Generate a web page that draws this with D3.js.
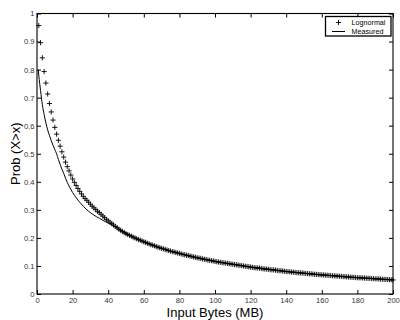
<!DOCTYPE html>
<html><head><meta charset="utf-8">
<script src="https://cdn.jsdelivr.net/npm/d3@7"></script>
<style>html,body{margin:0;padding:0;background:#fff;}svg{display:block;}</style>
</head><body>
<script>
// ---- data ----
const xTicks = [0,20,40,60,80,100,120,140,160,180,200];
const yTicks = [0,0.1,0.2,0.3,0.4,0.5,0.6,0.7,0.8,0.9,1];
const yTickLabels = ["0","0.1","0.2","0.3","0.4","0.5","0.6","0.7","0.8","0.9","1"];
const seriesNames = ["Lognormal","Measured"];

// Lognormal marks: x = 1..200 MB
const lognormalX = d3.range(1, 201);
const lognormalY = [
0.957,0.896,0.842,0.793,0.752,0.713,0.679,0.649,0.620,0.594,
0.570,0.548,0.527,0.507,0.488,0.470,0.454,0.439,0.424,0.410,
0.398,0.387,0.376,0.366,0.357,0.348,0.340,0.334,0.327,0.320,
0.313,0.307,0.301,0.295,0.290,0.284,0.278,0.272,0.266,0.261,
0.256,0.251,0.246,0.241,0.236,0.231,0.227,0.223,0.219,0.215,
0.212,0.209,0.206,0.203,0.200,0.197,0.194,0.192,0.189,0.186,
0.184,0.181,0.179,0.176,0.174,0.172,0.169,0.167,0.165,0.163,
0.161,0.159,0.157,0.155,0.153,0.151,0.150,0.148,0.146,0.145,
0.143,0.141,0.140,0.138,0.137,0.135,0.134,0.132,0.131,0.129,
0.128,0.127,0.125,0.124,0.123,0.121,0.120,0.119,0.118,0.116,
0.115,0.114,0.113,0.112,0.111,0.110,0.109,0.108,0.107,0.106,
0.105,0.104,0.103,0.102,0.101,0.100,0.099,0.098,0.097,0.096,
0.095,0.094,0.093,0.093,0.092,0.091,0.090,0.089,0.089,0.088,
0.087,0.086,0.086,0.085,0.084,0.083,0.083,0.082,0.081,0.080,
0.080,0.079,0.078,0.078,0.077,0.076,0.076,0.075,0.075,0.074,
0.073,0.073,0.072,0.072,0.071,0.070,0.070,0.069,0.069,0.068,
0.068,0.067,0.067,0.066,0.066,0.065,0.065,0.064,0.064,0.063,
0.063,0.062,0.062,0.061,0.061,0.060,0.060,0.059,0.059,0.058,
0.058,0.058,0.057,0.057,0.056,0.056,0.056,0.055,0.055,0.054,
0.054,0.054,0.053,0.053,0.052,0.052,0.052,0.051,0.051,0.050
];

// Measured curve
const measuredX = [0.7,1,2,3,4,5,6,7,8,9,10,11,12,13,14,15,16,17,18,19,20,22,24,26,28,30,32,35,38,41,45,50,60,70,80,90,100,110,120,130,140,150,160,170,180,190,200];
const measuredY = [0.80,0.78,0.725,0.675,0.64,0.61,0.585,0.565,0.547,0.53,0.515,0.5,0.48,0.462,0.445,0.43,0.413,0.398,0.385,0.373,0.362,0.343,0.327,0.313,0.30,0.29,0.281,0.27,0.259,0.25,0.236,0.216,0.186,0.162,0.144,0.129,0.116,0.106,0.096,0.088,0.080,0.074,0.068,0.063,0.058,0.054,0.050];

// ---- drawing ----
const W = 400, H = 320;
const L = 37, R = 393, T = 13.5, B = 294;
const font = "'Liberation Sans', Arial, Helvetica, sans-serif";

const svg = d3.select("body").append("svg").attr("width", W).attr("height", H);

const x = d3.scaleLinear().domain([0, 200]).range([L, R]);
const y = d3.scaleLinear().domain([0, 1]).range([B, T]);

// axes (ticks inward)
const tickLen = 4;
const axB = svg.append("g").attr("transform", `translate(0,${B})`)
  .call(d3.axisBottom(x).tickValues(xTicks).tickSizeInner(-tickLen).tickSizeOuter(0).tickPadding(3.5));
const axT = svg.append("g").attr("transform", `translate(0,${T})`)
  .call(d3.axisTop(x).tickValues(xTicks).tickSizeInner(-tickLen).tickSizeOuter(0).tickFormat(""));
const axL = svg.append("g").attr("transform", `translate(${L},0)`)
  .call(d3.axisLeft(y).tickValues(yTicks).tickSizeInner(-tickLen).tickSizeOuter(0).tickPadding(2.5)
    .tickFormat((d, i) => yTickLabels[i]));
const axR = svg.append("g").attr("transform", `translate(${R},0)`)
  .call(d3.axisRight(y).tickValues(yTicks).tickSizeInner(-tickLen).tickSizeOuter(0).tickFormat(""));

[axB, axT, axL, axR].forEach(g => {
  g.select(".domain").remove();
  g.selectAll(".tick line").attr("stroke", "#000").attr("stroke-width", 1);
  g.selectAll(".tick text").attr("font-family", font).attr("font-size", 7.6).attr("fill", "#333");
});

// frame
svg.append("rect").attr("x", L).attr("y", T).attr("width", R - L).attr("height", B - T)
  .attr("fill", "none").attr("stroke", "#000").attr("stroke-width", 1.1);

// measured line
const lineGen = d3.line().x(d => x(d[0])).y(d => y(d[1])).curve(d3.curveMonotoneX);
svg.append("path")
  .datum(measuredX.map((v, i) => [v, measuredY[i]]))
  .attr("d", lineGen).attr("fill", "none").attr("stroke", "#000").attr("stroke-width", 1);

// lognormal + markers
const cs = 2.6;
const plusPath = `M${-cs},0H${cs}M0,${-cs}V${cs}`;
svg.append("g").selectAll("path")
  .data(lognormalX.map((v, i) => [v, lognormalY[i]]))
  .join("path")
  .attr("transform", d => `translate(${x(d[0])},${y(d[1])})`)
  .attr("d", plusPath).attr("stroke", "#000").attr("stroke-width", 0.9).attr("fill", "none");

// axis titles
svg.append("text").attr("x", (L + R) / 2).attr("y", 316.5).attr("text-anchor", "middle")
  .attr("font-family", font).attr("font-size", 13).attr("fill", "#000").text("Input Bytes (MB)");
svg.append("text").attr("transform", `translate(20,${(T + B) / 2}) rotate(-90)`).attr("text-anchor", "middle")
  .attr("font-family", font).attr("font-size", 13).attr("fill", "#000").text("Prob (X>x)");

// legend
const lg = svg.append("g");
lg.append("rect").attr("x", 325.5).attr("y", 16.5).attr("width", 65.5).attr("height", 19.5)
  .attr("fill", "#fff").attr("stroke", "#000").attr("stroke-width", 1.3);
lg.append("path").attr("transform", "translate(338.5,22.5)").attr("d", plusPath)
  .attr("stroke", "#000").attr("stroke-width", 0.9);
lg.append("line").attr("x1", 332).attr("x2", 345).attr("y1", 31.5).attr("y2", 31.5)
  .attr("stroke", "#000").attr("stroke-width", 1);
lg.selectAll("text.lt").data(seriesNames).join("text").attr("class", "lt")
  .attr("x", 351.5).attr("y", (d, i) => 25 + i * 9)
  .attr("font-family", font).attr("font-size", 7.2).attr("fill", "#000").text(d => d);
</script>
</body></html>
